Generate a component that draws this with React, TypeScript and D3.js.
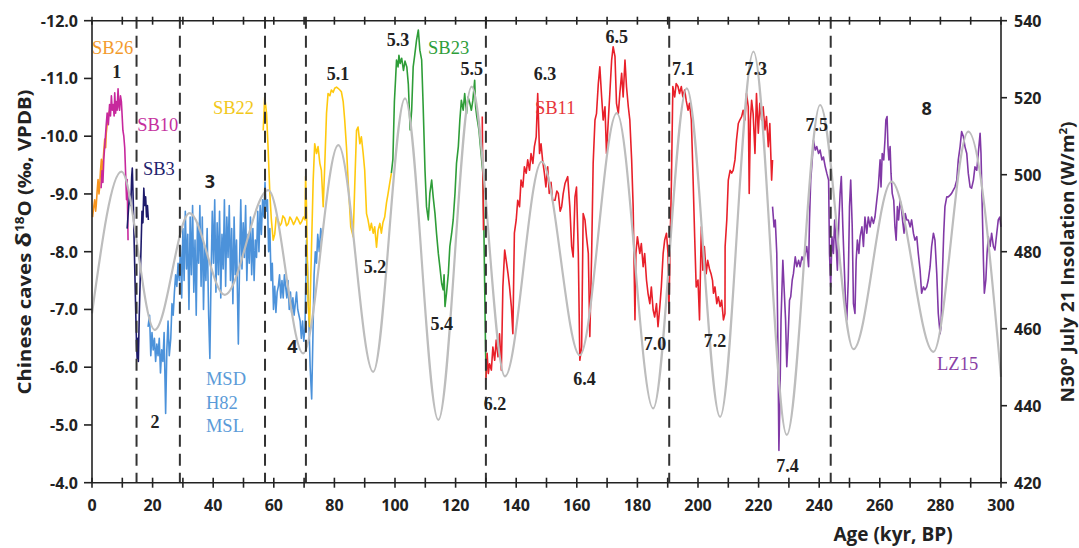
import React from "react";
import * as d3 from "d3";

type P = [number, number];

// ---- axis ticks ----
const xTicks = [0, 20, 40, 60, 80, 100, 120, 140, 160, 180, 200, 220, 240, 260, 280, 300];
const xMinor = d3.range(0, 301, 10);
const yLeftTicks = [-12, -11, -10, -9, -8, -7, -6, -5, -4];
const yRightTicks = [540, 520, 500, 480, 460, 440, 420];
const boundaries = [14.7, 29, 57.1, 70.6, 130, 190.5, 243.8];

// ---- records (age kyr, δ18O ‰) ----
const sb26: P[] = [[0.2,-8.6],[0.5,-8.75],[0.9,-8.9],[1.2,-8.7],[1.4,-8.8],[1.7,-9.05],[2.0,-9.25],[2.3,-9.0],[2.5,-9.1],[2.8,-9.4],[3.1,-9.6],[3.4,-9.35],[3.6,-9.5],[3.9,-9.75],[4.2,-9.95],[4.5,-9.8],[4.7,-10.05],[5.0,-10.2],[5.3,-10.3],[5.6,-10.4],[5.9,-10.45]];
const sb10: P[] = [[3.0,-9.1],[3.3,-9.4],[3.6,-9.2],[3.9,-9.6],[4.3,-9.9],[4.7,-10.2],[5.0,-10.4],[5.4,-10.2],[5.8,-10.55],[6.1,-10.35],[6.4,-10.7],[6.7,-10.45],[7.0,-10.55],[7.3,-10.35],[7.5,-10.75],[7.8,-10.4],[8.0,-10.6],[8.3,-10.45],[8.6,-10.82],[8.9,-10.5],[9.1,-10.45],[9.4,-10.7],[9.7,-10.6],[10.0,-10.3],[10.2,-10.1],[10.5,-10.0],[10.8,-9.8],[11.1,-9.35],[11.4,-8.9],[11.6,-9.25],[11.9,-8.2]];
const sb3: P[] = [[11.6,-8.4],[12.0,-8.7],[12.4,-9.0],[12.8,-8.8],[13.1,-9.3],[13.3,-9.45],[13.6,-8.9],[13.9,-8.2],[14.2,-7.5],[14.5,-6.8],[14.7,-6.4],[14.9,-6.15],[15.1,-6.5],[15.3,-6.1],[15.6,-6.9],[15.9,-7.5],[16.2,-8.1],[16.5,-8.7],[16.8,-8.5],[17.1,-9.1],[17.4,-8.8],[17.7,-8.95],[18.0,-8.6],[18.3,-8.8],[18.6,-8.55]];
const msd: P[] = [[18.5,-6.7],[19.0,-6.9],[19.4,-6.2],[19.8,-6.6],[20.2,-6.3],[20.6,-6.5],[21.0,-6.1],[21.4,-6.4],[21.8,-6.2],[22.2,-6.5],[22.6,-5.9],[23.0,-6.3],[23.4,-6.1],[23.8,-6.6],[24.3,-5.2],[24.7,-6.3],[25.1,-6.8],[25.5,-6.2],[26.0,-6.5],[26.4,-7.1],[26.8,-6.9],[27.2,-7.3],[27.6,-7.6],[28.0,-7.4],[28.4,-7.8],[28.8,-7.5],[29.2,-8.1],[29.6,-7.2],[30.0,-8.4],[30.4,-7.5],[30.8,-8.7],[31.2,-7.7],[31.6,-8.3],[32.0,-7.0],[32.4,-8.6],[32.8,-7.6],[33.2,-8.8],[33.6,-7.3],[34.0,-8.2],[34.4,-6.9],[34.8,-8.5],[35.2,-7.8],[35.6,-8.8],[36.0,-7.4],[36.4,-8.6],[36.8,-7.0],[37.2,-8.1],[37.6,-7.5],[38.0,-8.4],[38.5,-6.9],[38.9,-6.15],[39.3,-7.6],[39.7,-8.7],[40.1,-7.8],[40.5,-8.9],[40.9,-7.3],[41.3,-8.5],[41.7,-7.6],[42.1,-8.7],[42.5,-7.2],[42.9,-8.3],[43.3,-7.7],[43.7,-8.9],[44.1,-7.4],[44.5,-8.6],[44.9,-7.9],[45.3,-8.8],[45.7,-7.5],[46.1,-8.4],[46.5,-7.1],[46.9,-8.6],[47.3,-7.6],[47.7,-8.2],[48.3,-6.4],[48.7,-7.8],[49.1,-8.9],[49.5,-7.7],[49.9,-8.5],[50.3,-7.9],[50.7,-8.8],[51.1,-7.5],[51.5,-8.3],[51.9,-7.8],[52.3,-8.6],[52.7,-7.6],[53.1,-8.4],[53.5,-7.5],[53.9,-8.2],[54.3,-7.9],[54.7,-8.7],[55.1,-8.0],[55.5,-8.8],[55.9,-8.3],[56.3,-8.9],[56.7,-8.6],[57.1,-9.2],[57.5,-8.7],[57.9,-8.9],[58.3,-8.0],[58.7,-8.4],[59.1,-7.5],[59.5,-7.8],[59.9,-7.0],[60.3,-7.4],[60.7,-6.95],[61.1,-7.3],[61.5,-7.4],[61.9,-7.6],[62.3,-7.2],[62.7,-7.5],[63.1,-7.2],[63.5,-7.6],[63.9,-7.4],[64.3,-7.2],[64.7,-7.5],[65.1,-7.0],[65.5,-7.3],[65.9,-6.95],[66.3,-7.2],[66.7,-6.9],[67.1,-7.1],[67.5,-7.3],[67.9,-7.0],[68.3,-6.9],[68.7,-6.8],[69.1,-6.5],[69.5,-6.8],[69.9,-6.45],[70.3,-6.7],[70.8,-8.2],[71.2,-7.6],[71.6,-6.8],[72.0,-6.0],[72.5,-5.45],[72.9,-6.5],[73.3,-7.6],[73.7,-8.0],[74.1,-7.8],[74.5,-8.3],[75.0,-8.0],[75.5,-8.4],[76.0,-8.2]];
const sb22: P[] = [[56.5,-10.1],[57.0,-10.68],[57.6,-10.4],[58.1,-9.82],[58.7,-9.0],[59.2,-8.55],[59.8,-8.2],[60.3,-8.3],[60.8,-8.6],[61.4,-8.55],[62.0,-8.45],[62.5,-8.49],[63.0,-8.62],[63.6,-8.58],[64.2,-8.45],[64.8,-8.49],[65.3,-8.6],[65.9,-8.55],[66.5,-8.47],[67.0,-8.52],[67.6,-8.6],[68.1,-8.55],[68.7,-8.48],[69.2,-8.52],[69.8,-8.6],[70.3,-8.55],[70.5,-9.3],[70.8,-8.78],[71.3,-7.1],[71.8,-6.7],[72.4,-7.97],[73.0,-9.24],[73.5,-9.87],[74.1,-9.7],[74.6,-9.82],[75.2,-9.53],[75.7,-9.41],[76.3,-8.78],[76.8,-9.47],[77.4,-10.4],[77.9,-10.74],[78.5,-10.7],[79.0,-10.8],[79.6,-10.76],[80.1,-10.83],[80.7,-10.85],[81.2,-10.83],[81.8,-10.8],[82.3,-10.77],[82.9,-10.6],[83.4,-10.28],[84.0,-9.8],[84.5,-9.24],[85.0,-8.8],[85.4,-8.43],[86.2,-8.26],[86.7,-9.12],[87.3,-10.1],[87.8,-10.16],[88.4,-9.87],[88.9,-9.99],[89.5,-9.7],[90.0,-9.41],[90.6,-8.66],[91.1,-8.55],[91.7,-8.37],[92.2,-8.49],[92.8,-8.32],[93.3,-8.43],[93.9,-8.08],[94.4,-8.37],[95.0,-8.49],[95.5,-8.32],[96.0,-8.5],[96.6,-8.6],[97.2,-8.85],[97.7,-9.0],[98.3,-9.2],[98.8,-9.36]];
const sb23: P[] = [[98.8,-9.36],[99.3,-9.6],[99.8,-10.6],[100.2,-11.0],[100.5,-11.32],[101.0,-11.2],[101.3,-11.4],[101.7,-11.26],[102.2,-11.35],[102.8,-11.14],[103.3,-11.3],[103.9,-11.2],[104.4,-10.9],[105.0,-10.11],[105.5,-10.45],[106.0,-11.2],[106.5,-11.4],[107.1,-11.66],[107.7,-11.84],[108.2,-11.49],[108.8,-11.32],[109.3,-10.51],[109.9,-9.41],[110.4,-8.78],[111.0,-8.55],[111.5,-9.01],[112.1,-9.24],[112.6,-8.95],[113.2,-8.66],[113.7,-8.32],[114.3,-7.97],[114.8,-7.74],[115.4,-7.45],[115.9,-7.34],[116.2,-7.6],[116.5,-7.05],[117.0,-7.28],[117.6,-7.62],[118.1,-8.09],[118.7,-8.32],[119.2,-8.55],[119.8,-9.01],[120.3,-9.53],[120.9,-9.82],[121.4,-10.28],[121.9,-10.62],[122.5,-10.45],[123.0,-10.74],[123.6,-10.39],[124.1,-10.68],[124.7,-10.57],[125.2,-10.45],[125.7,-10.62],[126.3,-10.97],[126.6,-10.51],[127.0,-10.34],[127.7,-10.11],[128.2,-9.82],[129.0,-9.36],[129.3,-8.55],[129.6,-7.39],[129.9,-6.24],[130.1,-5.83]];
const sb11a: P[] = [[128.8,-10.34],[128.9,-9.7],[129.0,-9.36],[129.1,-8.9],[129.2,-8.37]];
const sb11: P[] = [[130.0,-5.78],[130.4,-6.24],[130.8,-5.89],[131.2,-6.06],[131.8,-5.95],[132.3,-6.35],[132.9,-6.12],[133.4,-6.47],[134.0,-6.18],[134.5,-6.58],[135.1,-5.95],[135.6,-7.39],[136.2,-8.03],[136.7,-7.85],[137.3,-7.62],[137.8,-7.39],[138.4,-7.05],[138.9,-6.58],[139.4,-8.32],[140.0,-8.55],[140.5,-8.89],[141.1,-8.78],[141.6,-9.24],[142.2,-9.12],[142.7,-9.47],[143.3,-9.36],[143.8,-9.59],[144.4,-9.41],[144.9,-9.7],[145.5,-9.53],[146.0,-9.82],[146.6,-9.99],[147.1,-10.74],[147.7,-9.7],[148.2,-9.87],[148.7,-9.59],[149.3,-9.36],[149.8,-9.12],[150.4,-9.47],[150.9,-9.01],[151.5,-9.2],[152.0,-8.89],[152.8,-8.89],[153.4,-9.05],[153.9,-9.01],[154.5,-8.7],[155.0,-8.78],[155.5,-9.0],[156.1,-9.18],[157.0,-9.3],[157.7,-8.78],[158.3,-8.09],[158.8,-7.91],[159.4,-8.95],[159.9,-9.12],[160.5,-7.97],[161.0,-6.12],[161.6,-6.35],[162.1,-8.66],[162.7,-8.55],[163.2,-8.26],[163.8,-7.97],[164.3,-6.53],[164.9,-7.97],[165.4,-9.53],[166.0,-10.28],[166.5,-10.39],[167.1,-10.91],[167.6,-11.2],[168.2,-10.68],[168.7,-10.28],[169.3,-10.51],[169.8,-9.7],[170.4,-10.28],[170.9,-10.74],[171.5,-11.32],[172.0,-11.55],[172.6,-11.38],[173.1,-10.57],[173.7,-10.39],[174.2,-10.74],[174.8,-11.09],[175.3,-10.68],[175.9,-11.32],[176.4,-10.86],[177.0,-10.51],[177.5,-10.28],[178.1,-9.59],[178.6,-8.78],[179.2,-6.82],[179.5,-7.97],[180.0,-8.26],[180.8,-7.97],[181.3,-8.14],[181.9,-7.74],[182.4,-7.97],[183.0,-7.51],[183.5,-7.28],[184.1,-7.1],[184.6,-7.39],[185.2,-6.99],[185.7,-6.87],[186.3,-7.1],[186.8,-6.7],[187.4,-7.05],[187.9,-7.39],[188.5,-7.97],[189.0,-8.2],[189.6,-8.32],[190.1,-7.97],[190.4,-6.93],[190.9,-8.43],[191.2,-9.12],[191.7,-10.86],[192.3,-10.68],[192.8,-10.91],[193.4,-10.86],[193.9,-10.74],[194.5,-10.86],[195.0,-10.68],[195.6,-10.8],[196.1,-10.62],[196.7,-10.45],[197.2,-10.57],[197.8,-10.28],[198.3,-9.41],[198.9,-8.26],[199.4,-7.39],[200.0,-7.51],[200.5,-6.82],[201.1,-8.43],[201.6,-7.68],[202.1,-8.09],[202.7,-7.62],[203.2,-7.85],[203.8,-7.7],[204.3,-7.62],[204.8,-7.5],[205.1,-7.28],[205.6,-7.39],[206.2,-7.1],[206.7,-7.22],[207.3,-7.05],[207.8,-7.16],[208.4,-6.82],[208.9,-6.93],[208.95,-8.09],[209.5,-8.55],[210.0,-9.24],[210.6,-9.41],[211.1,-9.36],[211.6,-9.41],[212.2,-9.59],[212.7,-9.93],[213.3,-10.22],[213.8,-10.28],[214.4,-10.34],[214.9,-10.45],[215.5,-10.28],[216.0,-10.74],[216.6,-10.51],[216.9,-9.01],[217.3,-10.28],[217.7,-10.62],[218.2,-10.39],[218.8,-9.7],[219.3,-10.74],[219.9,-10.05],[220.4,-10.57],[221.0,-10.28],[221.5,-10.51],[222.1,-10.11],[222.6,-10.34],[223.2,-9.82],[223.7,-10.22],[224.3,-9.24],[224.6,-9.59]];
const lz15: P[] = [[224.6,-8.78],[225.1,-8.43],[225.5,-8.55],[226.0,-7.97],[226.4,-6.24],[226.7,-4.56],[227.1,-5.66],[227.4,-6.82],[228.0,-7.85],[228.4,-7.39],[228.9,-6.82],[229.3,-6.01],[229.7,-6.47],[230.2,-7.16],[230.6,-7.22],[231.1,-7.51],[231.5,-7.62],[232.1,-7.91],[232.6,-7.74],[233.2,-7.85],[233.7,-7.74],[234.3,-7.91],[234.8,-7.85],[235.4,-7.97],[235.9,-8.09],[236.5,-7.74],[236.8,-8.55],[237.2,-9.24],[237.7,-9.59],[238.1,-9.93],[238.7,-9.76],[239.2,-9.82],[239.8,-9.7],[240.3,-9.76],[240.9,-9.59],[241.4,-9.64],[242.0,-9.47],[242.5,-9.36],[243.1,-9.24],[243.4,-7.97],[243.8,-7.39],[244.2,-8.26],[244.7,-7.97],[245.1,-8.55],[245.6,-8.09],[246.0,-7.68],[246.5,-8.55],[246.9,-9.01],[247.3,-9.3],[247.8,-8.43],[248.2,-7.85],[248.7,-7.1],[249.1,-6.82],[249.6,-7.51],[250.0,-8.78],[250.4,-9.24],[250.9,-8.43],[251.3,-7.1],[251.8,-6.93],[252.2,-7.85],[252.6,-8.2],[253.1,-7.97],[253.5,-8.26],[254.1,-8.43],[254.6,-8.09],[255.1,-8.6],[255.7,-8.32],[256.2,-8.6],[256.8,-8.43],[257.3,-8.6],[257.9,-8.49],[258.4,-8.6],[259.0,-8.89],[259.5,-9.12],[260.1,-9.59],[260.4,-9.12],[260.8,-9.7],[261.3,-9.59],[261.7,-9.93],[262.0,-10.28],[262.4,-10.34],[262.7,-9.82],[263.0,-9.59],[263.4,-9.82],[263.7,-9.36],[264.1,-9.01],[264.6,-8.89],[265.0,-8.43],[265.4,-8.2],[265.8,-8.78],[266.2,-8.55],[266.7,-8.89],[267.1,-8.78],[267.5,-8.55],[268.0,-8.32],[268.4,-8.66],[268.9,-8.55],[269.4,-8.55],[270.0,-8.43],[270.5,-8.55],[271.1,-8.32],[271.6,-8.2],[272.2,-8.26],[272.7,-7.97],[273.3,-7.68],[273.8,-7.28],[274.4,-7.39],[274.9,-7.34],[275.5,-7.39],[276.0,-7.51],[276.6,-7.74],[277.1,-8.09],[277.7,-8.32],[278.2,-8.2],[278.8,-7.62],[279.3,-6.93],[279.9,-6.58],[280.2,-6.7],[280.6,-7.51],[281.1,-8.32],[281.5,-8.78],[282.1,-8.95],[282.6,-8.95],[283.2,-8.98],[283.7,-9.01],[284.3,-9.07],[284.8,-9.12],[285.4,-9.24],[285.9,-9.59],[286.5,-9.82],[287.0,-10.08],[287.6,-9.99],[288.1,-9.82],[288.7,-9.7],[289.2,-9.36],[289.8,-9.12],[290.3,-9.1],[290.9,-9.24],[291.4,-9.47],[292.0,-9.41],[292.5,-9.7],[293.1,-10.05],[293.4,-9.7],[293.8,-8.78],[294.2,-7.85],[294.5,-7.28],[295.0,-7.51],[295.4,-7.97],[295.8,-8.26],[296.4,-8.09],[296.9,-8.32],[297.5,-8.09],[298.0,-8.03],[298.6,-8.32],[299.1,-8.55],[299.6,-8.6],[300.0,-8.43]];

// ---- insolation, N30° July 21 (W/m²), turning points ----
const insolation: P[] = [[0,464],[9.7,500.8],[20.7,459.7],[32.2,490],[43.8,468.8],[58.2,496],[69.7,453.6],[81.3,507.7],[92.8,448.8],[103.3,519.8],[114.3,436.3],[125.3,522.9],[136.3,447.6],[148.4,503.4],[161,453.1],[173.2,516],[185.2,439.3],[196.3,522.4],[207.3,437.1],[218.3,532],[229.3,432.4],[240.3,518.1],[251.3,454.7],[263.9,498.2],[277.7,454],[289.2,511.2],[300,447.5]];

// ---- annotations (age, δ18O baseline position) ----
const stageLabels: { t: string; a: number; v: number; sans?: boolean }[] = [
  { t: "1", a: 8.15, v: -11.01 },
  { t: "2", a: 20.8, v: -4.95 },
  { t: "3", a: 38.9, v: -9.1, sans: true },
  { t: "4", a: 66.1, v: -6.25, sans: true },
  { t: "5.1", a: 81.2, v: -10.97 },
  { t: "5.2", a: 93.4, v: -7.63 },
  { t: "5.3", a: 101.0, v: -11.56 },
  { t: "5.4", a: 115.4, v: -6.64 },
  { t: "5.5", a: 125.3, v: -11.06 },
  { t: "6.2", a: 133.0, v: -5.26 },
  { t: "6.3", a: 149.5, v: -10.97 },
  { t: "6.4", a: 162.5, v: -5.69 },
  { t: "6.5", a: 173.2, v: -11.61 },
  { t: "7.0", a: 185.8, v: -6.3 },
  { t: "7.1", a: 195.1, v: -11.06 },
  { t: "7.2", a: 205.6, v: -6.35 },
  { t: "7.3", a: 219.1, v: -11.06 },
  { t: "7.4", a: 229.5, v: -4.18 },
  { t: "7.5", a: 239.2, v: -10.09 },
  { t: "8", a: 275.5, v: -10.37, sans: true },
];
const recordLabels: { t: string[]; a: number; v: number; c: string }[] = [
  { t: ["SB26"], a: 0, v: -11.42, c: "#F39A2B" },
  { t: ["SB10"], a: 14.9, v: -10.09, c: "#C5309E" },
  { t: ["SB3"], a: 16.8, v: -9.33, c: "#23226E" },
  { t: ["SB22"], a: 39.9, v: -10.38, c: "#F2C81A" },
  { t: ["SB23"], a: 110.9, v: -11.43, c: "#2E9E3A" },
  { t: ["SB11"], a: 146.2, v: -10.38, c: "#E8343A" },
  { t: ["LZ15"], a: 278.9, v: -5.96, c: "#8A3FA6" },
  { t: ["MSD", "H82", "MSL"], a: 37.6, v: -5.69, c: "#5B9BD8" },
];

const series: { d: P[]; c: string }[] = [
  { d: sb26, c: "#F7941D" },
  { d: sb10, c: "#C7289D" },
  { d: sb3, c: "#1D1A6A" },
  { d: msd, c: "#4C92DA" },
  { d: sb22, c: "#FFC90E" },
  { d: sb23, c: "#2E9D38" },
  { d: sb11a, c: "#E8202A" },
  { d: sb11, c: "#E8202A" },
  { d: lz15, c: "#8139A6" },
];

export default function App() {
  const W = 1079, H = 548;
  const x = d3.scaleLinear().domain([0, 300]).range([92, 1001]);
  const yL = d3.scaleLinear().domain([-12, -4]).range([20.7, 482.7]);
  const yR = d3.scaleLinear().domain([540, 420]).range([20.7, 482.7]);
  const line = d3.line<P>().x(d => x(d[0])).y(d => yL(d[1]));
  const insLine = d3.line<P>().x(d => x(d[0])).y(d => yR(d[1])).curve(d3.curveMonotoneX);
  const top = yL(-12), bot = yL(-4), left = x(0), right = x(300);
  const sans = "'Open Sans', 'Noto Sans', sans-serif";
  const serif = "'Liberation Serif', 'DejaVu Serif', serif";
  return (
    <svg width={W} height={H} style={{ position: "absolute", left: 0, top: 0, background: "#fff" }}>
      {/* records */}
      {series.map((s, i) => (
        <path key={i} d={line(s.d) || ""} fill="none" stroke={s.c} strokeWidth={1.6} strokeLinejoin="round" />
      ))}
      {/* insolation */}
      <path d={insLine(insolation) || ""} fill="none" stroke="#BDBDBD" strokeWidth={2.2} />
      {/* boundaries */}
      {boundaries.map((b, i) => (
        <line key={i} x1={x(b)} x2={x(b)} y1={top - 4} y2={bot} stroke="#333" strokeWidth={2} strokeDasharray="12,7" />
      ))}
      {/* axes */}
      <g stroke="#222" strokeWidth={1.6}>
        <line x1={left} x2={right} y1={top} y2={top} />
        <line x1={left} x2={right} y1={bot} y2={bot} />
        <line x1={left} x2={left} y1={top} y2={bot} />
        <line x1={right} x2={right} y1={top} y2={bot} />
        {xMinor.map(t => (
          <g key={t}>
            <line x1={x(t)} x2={x(t)} y1={top - 4} y2={top + 4} />
            <line x1={x(t)} x2={x(t)} y1={bot - 5} y2={bot + 5} />
          </g>
        ))}
        {yLeftTicks.map(t => <line key={t} x1={left - 8} x2={left} y1={yL(t)} y2={yL(t)} />)}
        {yRightTicks.map(t => <line key={t} x1={right} x2={right + 6} y1={yR(t)} y2={yR(t)} />)}
      </g>
      <g fontFamily={sans} fontWeight={700} fontSize={16} fill="#222">
        {xTicks.map(t => (
          <text key={t} x={x(t)} y={bot + 28} textAnchor="middle">{t}</text>
        ))}
        {yLeftTicks.map(t => (
          <text key={t} x={left - 14} y={yL(t) + 6} textAnchor="end">{d3.format(".1f")(t).replace("−", "-")}</text>
        ))}
        {yRightTicks.map(t => (
          <text key={t} x={right + 13} y={yR(t) + 6} textAnchor="start">{t}</text>
        ))}
      </g>
      {/* axis titles */}
      <text x={893} y={541} textAnchor="middle" fontFamily={sans} fontWeight={700} fontSize={19} fill="#222">Age (kyr, BP)</text>
      <text transform="translate(31,242) rotate(-90)" textAnchor="middle" fontFamily={sans} fontWeight={700} fontSize={18} fill="#222" textLength={305} lengthAdjust="spacingAndGlyphs">
        Chinese caves <tspan fontSize={22}>δ</tspan><tspan fontSize={12} dy={-7}>18</tspan><tspan dy={7}>O (‰, VPDB)</tspan>
      </text>
      <text transform="translate(1074,262) rotate(-90)" textAnchor="middle" fontFamily={sans} fontWeight={700} fontSize={18} fill="#222" textLength={281} lengthAdjust="spacingAndGlyphs">
        N30° July 21 Insolation (W/m<tspan fontSize={11} dy={-7}>2</tspan><tspan dy={7}>)</tspan>
      </text>
      {/* stage labels */}
      {stageLabels.map(s => (
        <text key={s.t} x={x(s.a)} y={yL(s.v)} textAnchor="middle" fontFamily={s.sans ? sans : serif} fontWeight={700} fontSize={18} fill="#222">{s.t}</text>
      ))}
      {/* record labels */}
      {recordLabels.map(r => (
        <text key={r.t[0]} x={x(r.a)} y={yL(r.v)} fontFamily={serif} fontSize={18.5} fill={r.c}>
          {r.t.map((s, i) => <tspan key={i} x={x(r.a)} dy={i === 0 ? 0 : 23.5}>{s}</tspan>)}
        </text>
      ))}
    </svg>
  );
}
